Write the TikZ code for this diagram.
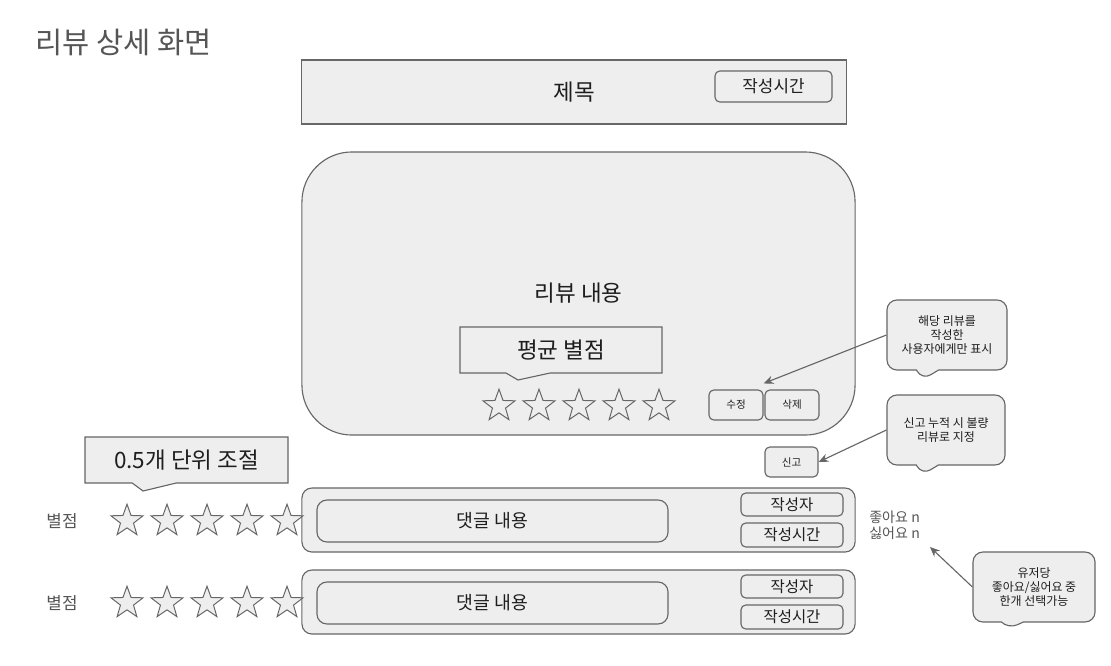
\documentclass[tikz,border=0pt]{standalone}
\usepackage{fontspec}
\setmainfont{Noto Sans CJK KR}
\usetikzlibrary{arrows.meta,positioning,shapes.geometric,shapes.callouts}
\definecolor{panel}{RGB}{238,238,238}
\definecolor{edge}{RGB}{102,102,102}
\definecolor{ink}{RGB}{30,30,30}
\definecolor{greytext}{RGB}{85,85,85}
\tikzset{
  frame/.style={draw=edge,line width=0.8pt,fill=panel,inner sep=0pt,text=ink},
  roundbox/.style={frame,rounded corners=0.25cm},
  tag/.style={frame,rounded corners=0.12cm,font=\fontsize{7.5}{9}\selectfont},
  smallbox/.style={frame,rounded corners=0.12cm,minimum width=2.55cm,font=\fontsize{11}{12}\selectfont},
  starshape/.style={star,star points=5,star point ratio=2.45,draw=edge,line width=0.7pt,fill=panel,minimum size=0.84cm,inner sep=0pt},
  pointbox/.style={frame,rectangle callout,callout pointer width=1.1cm,font=\fontsize{16}{18}\selectfont},
  bubble/.style={frame,rectangle callout,rounded corners=0.25cm,callout pointer width=0.55cm,align=center,font=\fontsize{8.5}{10}\selectfont},
  arr/.style={-{Stealth[length=7pt,width=6pt]},draw=edge,line width=0.8pt},
  sidetext/.style={text=greytext,inner sep=0pt}
}

\begin{document}
\begin{tikzpicture}[x=0.025cm,y=-0.025cm]
  \useasboundingbox (0,0) rectangle (1111,665);

  \node[sidetext,anchor=west,font=\fontsize{21}{24}\selectfont] (pagetitle) at (35,42) {리뷰 상세 화면};

  % title bar
  \node[frame,rounded corners=0pt,minimum width=13.6cm,minimum height=1.6cm,font=\fontsize{16}{18}\selectfont] (title) at (574,92) {제목};
  \node[frame,rounded corners=0.12cm,minimum width=2.925cm,minimum height=0.775cm,font=\fontsize{12}{14}\selectfont] (titletime) at (773.5,86.5) {작성시간};

  % review body
  \node[frame,rounded corners=1.25cm,minimum width=13.825cm,minimum height=7.075cm,font=\fontsize{16}{18}\selectfont] (review) at (578.5,293.5) {리뷰 내용};
  \node[pointbox,minimum width=5.05cm,minimum height=1.15cm,callout absolute pointer={(518,380)}] (avgnote) at (561,350) {평균 별점};
  \foreach \i in {1,...,5}
    \node[starshape] (avg\i) at ({459+40*\i},406) {};
  \node[tag,minimum width=1.35cm,minimum height=0.75cm] (edit) at (736,405) {수정};
  \node[tag,minimum width=1.35cm,minimum height=0.75cm] (del) at (792,405) {삭제};
  \node[tag,minimum width=1.325cm,minimum height=0.75cm] (report) at (791.5,462) {신고};

  % notes
  \node[bubble,minimum width=3cm,minimum height=1.75cm,callout absolute pointer={(922,380)}] (ownernote) at (947,335) {해당 리뷰를\\작성한\\사용자에게만 표시};
  \node[bubble,minimum width=2.95cm,minimum height=1.75cm,callout absolute pointer={(922,475)}] (reportnote) at (946,430) {신고 누적 시 불량\\리뷰로 지정};
  \node[bubble,minimum width=3.05cm,minimum height=1.75cm,callout absolute pointer={(1008,629)}] (votenote) at (1034,587) {유저당\\좋아요/싫어요 중\\한개 선택가능};

  % comments
  \node[roundbox,minimum width=13.825cm,minimum height=1.6cm] (comment1) at (578.5,520) {};
  \node[roundbox,minimum width=8.775cm,minimum height=1.05cm,font=\fontsize{13}{15}\selectfont] (text1) at (492.5,521) {댓글 내용};
  \node[smallbox,minimum height=0.575cm] (writer1) at (792,504.5) {작성자};
  \node[smallbox,minimum height=0.6cm] (time1) at (792,535) {작성시간};

  \node[roundbox,minimum width=13.825cm,minimum height=1.6cm] (comment2) at (578.5,602) {};
  \node[roundbox,minimum width=8.775cm,minimum height=1.05cm,font=\fontsize{13}{15}\selectfont] (text2) at (492.5,603) {댓글 내용};
  \node[smallbox,minimum height=0.575cm] (writer2) at (792,586.5) {작성자};
  \node[smallbox,minimum height=0.6cm] (time2) at (792,617) {작성시간};

  \node[sidetext,anchor=west,align=left,font=\fontsize{10}{11.3}\selectfont] (likes) at (869,525) {좋아요 n\\싫어요 n};

  % rating rows
  \node[sidetext,font=\fontsize{12}{14}\selectfont] (rate1) at (62,521) {별점};
  \node[sidetext,font=\fontsize{12}{14}\selectfont] (rate2) at (62,603) {별점};
  \foreach \i in {1,...,5} {
    \node[starshape] (star1\i) at ({87+40*\i},521) {};
    \node[starshape] (star2\i) at ({87+40*\i},603) {};
  }
  \node[pointbox,minimum width=5.075cm,minimum height=1.15cm,callout absolute pointer={(143,491)}] (halfnote) at (186.5,460) {0.5개 단위 조절};

  \coordinate (likesmark) at (930,547);
  \draw[arr] (ownernote.west) -- ([yshift=0.15cm]edit.north east);
  \draw[arr] (reportnote.west) -- (report.east);
  \draw[arr] (votenote.west) -- (likesmark);
\end{tikzpicture}
\end{document}
